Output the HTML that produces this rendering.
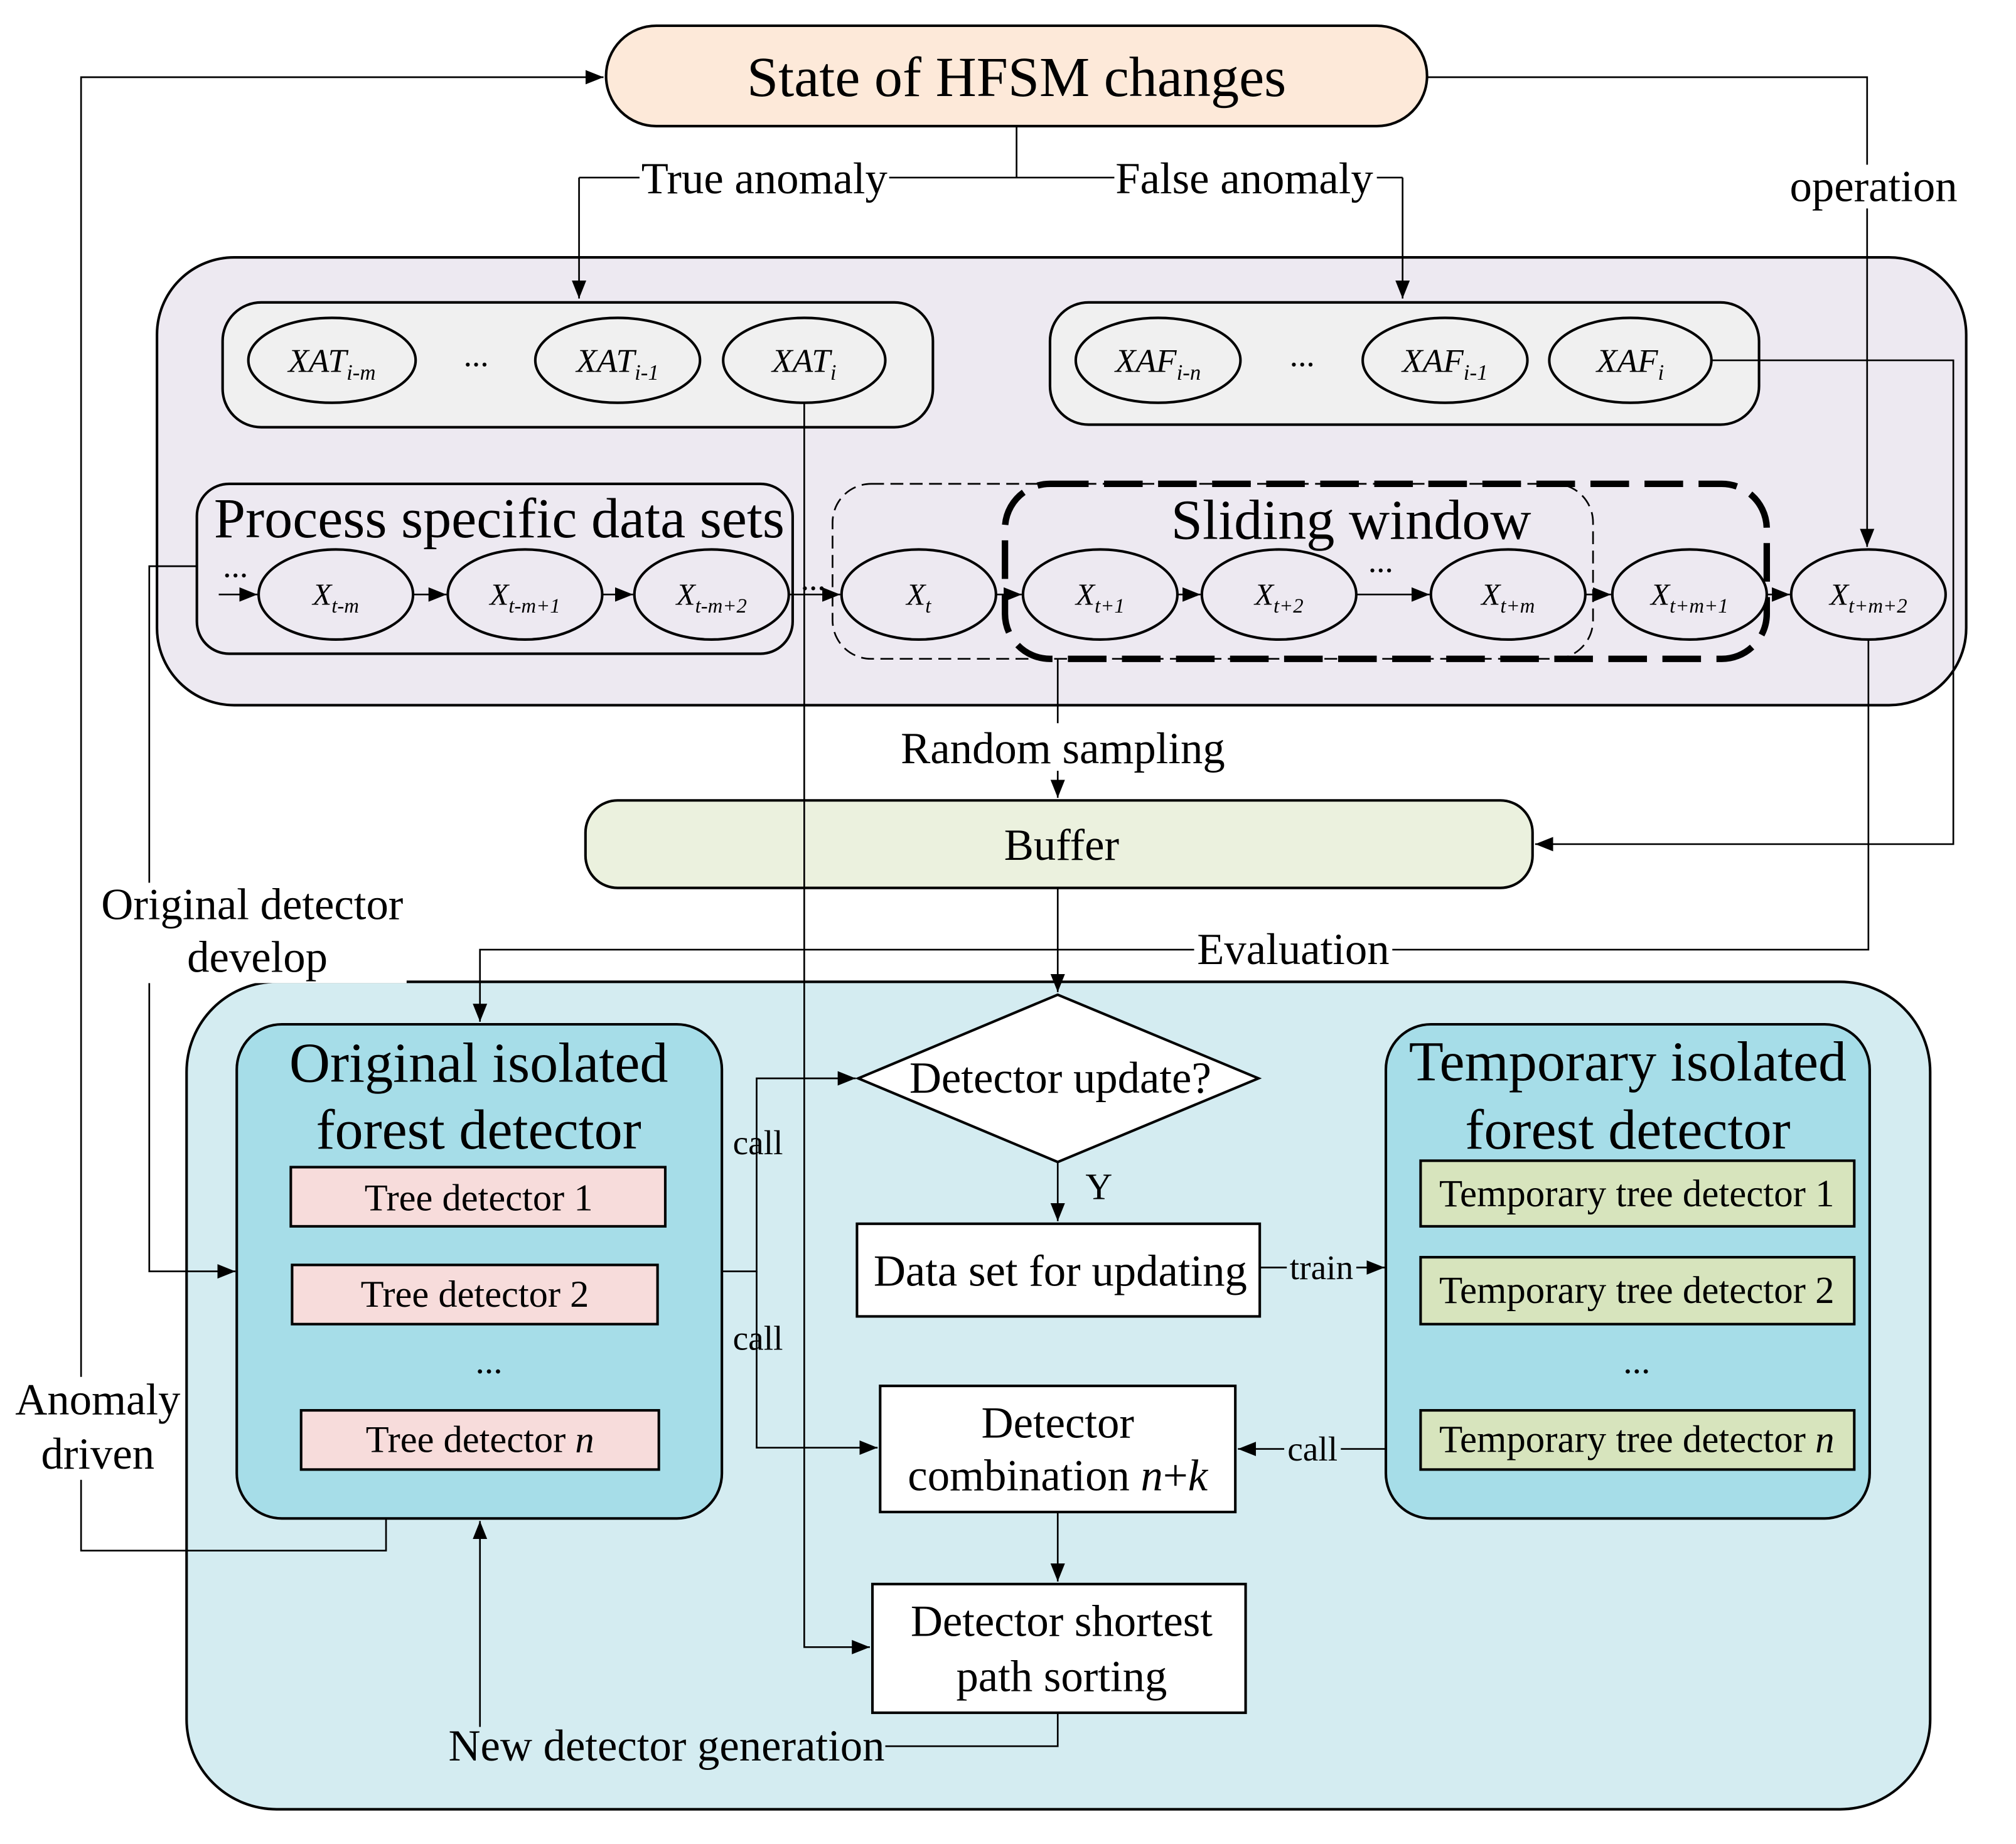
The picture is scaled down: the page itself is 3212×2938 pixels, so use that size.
<!DOCTYPE html>
<html><head><meta charset="utf-8"><style>html,body{margin:0;padding:0;background:#fff}svg{display:block}text{font-family:"Liberation Serif",serif;fill:#000}</style></head><body>
<svg width="3212" height="2938" viewBox="0 0 1566.7 1433" preserveAspectRatio="none" xmlns="http://www.w3.org/2000/svg">
<defs><marker id="a" viewBox="0 0 10 10" refX="10" refY="5" markerWidth="14" markerHeight="14" markerUnits="userSpaceOnUse" orient="auto"><path d="M0,1 L10,5 L0,9 z" fill="#000"/></marker></defs>
<rect width="1567" height="1433" fill="#fff"/>
<g fill="none" stroke="#000" stroke-width="1.3">
<rect x="122" y="200" width="1406" height="348" rx="60" fill="#ede9f1" stroke-width="2"/>
<rect x="145" y="763" width="1355" height="643" rx="70" fill="#d4ecf1" stroke-width="2"/>
<rect x="471" y="20" width="638" height="78" rx="39" fill="#fde9d9" stroke-width="2"/>
<rect x="173" y="235" width="552" height="97" rx="30" fill="#f0f0f0" stroke-width="2"/>
<rect x="816" y="235" width="551" height="95" rx="30" fill="#f0f0f0" stroke-width="2"/>
<rect x="153" y="376" width="463" height="132" rx="25" stroke-width="2"/>
<rect x="647" y="376" width="591" height="136" rx="30" stroke-dasharray="10,5"/>
<rect x="781" y="376" width="592" height="136" rx="35" stroke-width="5" stroke-dasharray="30,12"/>
<rect x="455" y="622" width="736" height="68" rx="25" fill="#ebf1de" stroke-width="2"/>
<rect x="184" y="796" width="377" height="384" rx="35" fill="#a6dde8" stroke-width="2"/>
<rect x="1077" y="796" width="376" height="384" rx="35" fill="#a6dde8" stroke-width="2"/>
<rect x="226" y="907" width="291" height="46" fill="#f7dcdb" stroke-width="2"/>
<rect x="227" y="983" width="284" height="46" fill="#f7dcdb" stroke-width="2"/>
<rect x="234" y="1096" width="278" height="46" fill="#f7dcdb" stroke-width="2"/>
<rect x="1104" y="902" width="337" height="51" fill="#d7e4bd" stroke-width="2"/>
<rect x="1104" y="977" width="337" height="52" fill="#d7e4bd" stroke-width="2"/>
<rect x="1104" y="1096" width="337" height="46" fill="#d7e4bd" stroke-width="2"/>
<path d="M822,773 L978,838 L822,903 L667,838 Z" fill="#fff" stroke-width="2"/>
<rect x="666" y="951" width="313" height="72" fill="#fff" stroke-width="2"/>
<rect x="684" y="1077" width="276" height="98" fill="#fff" stroke-width="2"/>
<rect x="678" y="1231" width="290" height="100" fill="#fff" stroke-width="2"/>
<g stroke-width="2" fill="#f0f0f0">
<ellipse cx="258" cy="280" rx="65" ry="33"/><ellipse cx="480" cy="280" rx="64" ry="33"/><ellipse cx="625" cy="280" rx="63" ry="33"/>
<ellipse cx="900" cy="280" rx="64" ry="33"/><ellipse cx="1123" cy="280" rx="64" ry="33"/><ellipse cx="1267" cy="280" rx="63" ry="33"/>
</g>
<g stroke-width="2" fill="#ede9f1">
<ellipse cx="261" cy="462" rx="60" ry="35"/><ellipse cx="408" cy="462" rx="60" ry="35"/><ellipse cx="553" cy="462" rx="60" ry="35"/>
<ellipse cx="714" cy="462" rx="60" ry="35"/><ellipse cx="855" cy="462" rx="60" ry="35"/><ellipse cx="994" cy="462" rx="60" ry="35"/>
<ellipse cx="1172" cy="462" rx="60" ry="35"/><ellipse cx="1313" cy="462" rx="60" ry="35"/><ellipse cx="1452" cy="462" rx="60" ry="35"/>
</g>
<path d="M790,98 V138 M450,138 H1090"/>
<path d="M450,138 V232" marker-end="url(#a)"/><path d="M1090,138 V232" marker-end="url(#a)"/>
<path d="M300,1180 V1205 H63 V60 H469" marker-end="url(#a)"/>
<path d="M1109,60 H1451 V425" marker-end="url(#a)"/>
<path d="M625,313 V1280 H676" marker-end="url(#a)"/>
<path d="M1330,280 H1518 V656 H1193" marker-end="url(#a)"/>
<path d="M170,462 H200" marker-end="url(#a)"/>
<path d="M321,462 H347" marker-end="url(#a)"/><path d="M468,462 H492" marker-end="url(#a)"/>
<path d="M613,462 H653" marker-end="url(#a)"/><path d="M774,462 H794" marker-end="url(#a)"/>
<path d="M915,462 H933" marker-end="url(#a)"/><path d="M1054,462 H1111" marker-end="url(#a)"/>
<path d="M1232,462 H1252" marker-end="url(#a)"/><path d="M1373,462 H1391" marker-end="url(#a)"/>
<path d="M153,440 H116 V988 H183" marker-end="url(#a)"/>
<path d="M822,512 V562"/><path d="M822,598 V620" marker-end="url(#a)"/>
<path d="M822,690 V771" marker-end="url(#a)"/>
<path d="M1452,497 V738 H373 V794" marker-end="url(#a)"/>
<path d="M373,1345 V1182" marker-end="url(#a)"/>
<path d="M688,1357 H822 V1331"/>
<path d="M561,988 H588 V838 H665" marker-end="url(#a)"/>
<path d="M588,988 V1125 H682" marker-end="url(#a)"/>
<path d="M822,903 V949" marker-end="url(#a)"/>
<path d="M979,985 H1076" marker-end="url(#a)"/>
<path d="M1077,1126 H962" marker-end="url(#a)"/>
<path d="M822,1175 V1229" marker-end="url(#a)"/>
</g>
<g fill="#fff">
<rect x="497" y="122" width="194" height="34"/><rect x="866" y="122" width="204" height="34"/>
<rect x="1388" y="128" width="136" height="34"/>
<rect x="10" y="1070" width="132" height="80"/>
<rect x="76" y="686" width="240" height="78"/>
<rect x="928" y="722" width="154" height="34"/>
<rect x="698" y="565" width="258" height="34"/>
</g>
<g fill="#d4ecf1">
<rect x="346" y="1342" width="342" height="30"/>
<rect x="1000" y="974" width="54" height="22"/>
<rect x="998" y="1115" width="44" height="22"/>
</g>
<g font-size="34.5" text-anchor="middle" dominant-baseline="central">
<text x="790" y="60" font-size="44">State of HFSM changes</text>
<text x="594" y="139">True anomaly</text><text x="967" y="139">False anomaly</text>
<text x="1456" y="145">operation</text>
<text x="76" y="1088">Anomaly</text><text x="76" y="1130">driven</text>
<text x="196" y="703">Original detector</text><text x="200" y="744">develop</text>
<text x="1005" y="738">Evaluation</text>
<text x="826" y="582">Random sampling</text>
<text x="518" y="1357">New detector generation</text>
<text x="388" y="403" font-size="44">Process specific data sets</text>
<text x="1050" y="404" font-size="44">Sliding window</text>
<text x="825" y="657">Buffer</text>
<text x="372" y="826" font-size="44">Original isolated</text><text x="372" y="878" font-size="44">forest detector</text>
<text x="1265" y="825" font-size="44">Temporary isolated</text><text x="1265" y="878" font-size="44">forest detector</text>
<text x="372" y="931" font-size="29.5">Tree detector 1</text>
<text x="369" y="1006" font-size="29.5">Tree detector 2</text>
<text x="373" y="1119" font-size="29.5">Tree detector <tspan font-style="italic">n</tspan></text>
<text x="380" y="1058" font-size="28">...</text>
<text x="1272" y="928" font-size="29.7">Temporary tree detector 1</text>
<text x="1272" y="1003" font-size="29.7">Temporary tree detector 2</text>
<text x="1272" y="1119" font-size="29.7">Temporary tree detector <tspan font-style="italic">n</tspan></text>
<text x="1272" y="1058" font-size="28">...</text>
<text x="824" y="838">Detector update?</text>
<text x="854" y="922" font-size="29">Y</text>
<text x="824" y="988">Data set for updating</text>
<text x="1027" y="985" font-size="27">train</text>
<text x="589" y="888" font-size="27">call</text><text x="589" y="1040" font-size="27">call</text>
<text x="1020" y="1126" font-size="27">call</text>
<text x="822" y="1106">Detector</text>
<text x="822" y="1147">combination <tspan font-style="italic">n</tspan>+<tspan font-style="italic">k</tspan></text>
<text x="825" y="1260">Detector shortest</text><text x="825" y="1303">path sorting</text>
<text x="370" y="276" font-size="26">...</text><text x="1012" y="276" font-size="26">...</text>
<text x="183" y="440" font-size="26">...</text><text x="632" y="450" font-size="26">...</text><text x="1073" y="436" font-size="26">...</text>
</g>
<g font-size="26" font-style="italic" text-anchor="middle">
<text x="258" y="289">XAT<tspan font-size="17" dy="6">i-m</tspan></text>
<text x="480" y="289">XAT<tspan font-size="17" dy="6">i-1</tspan></text>
<text x="625" y="289">XAT<tspan font-size="17" dy="6">i</tspan></text>
<text x="900" y="289">XAF<tspan font-size="17" dy="6">i-n</tspan></text>
<text x="1123" y="289">XAF<tspan font-size="17" dy="6">i-1</tspan></text>
<text x="1267" y="289">XAF<tspan font-size="17" dy="6">i</tspan></text>
</g>
<g font-size="24" font-style="italic" text-anchor="middle">
<text x="261" y="470">X<tspan font-size="16" dy="6">t-m</tspan></text>
<text x="408" y="470">X<tspan font-size="16" dy="6">t-m+1</tspan></text>
<text x="553" y="470">X<tspan font-size="16" dy="6">t-m+2</tspan></text>
<text x="714" y="470">X<tspan font-size="16" dy="6">t</tspan></text>
<text x="855" y="470">X<tspan font-size="16" dy="6">t+1</tspan></text>
<text x="994" y="470">X<tspan font-size="16" dy="6">t+2</tspan></text>
<text x="1172" y="470">X<tspan font-size="16" dy="6">t+m</tspan></text>
<text x="1313" y="470">X<tspan font-size="16" dy="6">t+m+1</tspan></text>
<text x="1452" y="470">X<tspan font-size="16" dy="6">t+m+2</tspan></text>
</g>
</svg>
</body></html>
